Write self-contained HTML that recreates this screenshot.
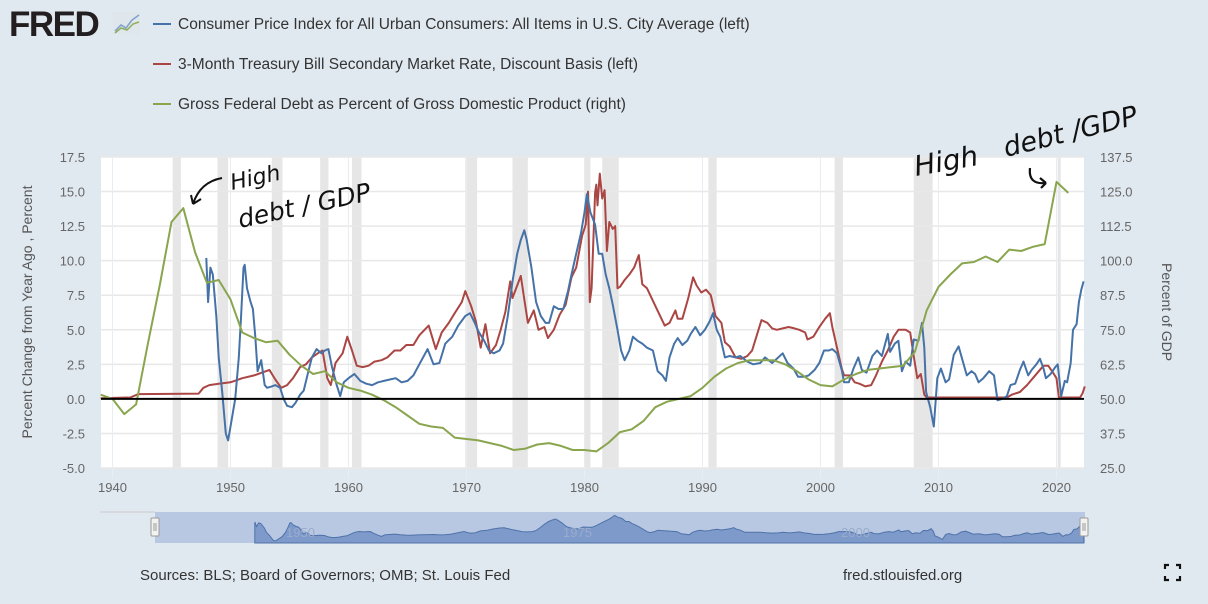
<!DOCTYPE html>
<html><head><meta charset="utf-8">
<style>
html,body{margin:0;padding:0;background:#e1e9f0;width:1208px;height:604px;overflow:hidden;font-family:"Liberation Sans","DejaVu Sans",sans-serif}
</style></head>
<body>
<svg id="chart" width="1208" height="604" xmlns="http://www.w3.org/2000/svg" style="position:absolute;left:0;top:0">
  <g>
    <text x="9" y="36" font-family="Liberation Sans, sans-serif" font-weight="bold" font-size="35" fill="#231f20" letter-spacing="-1.5">FRED</text>
    <rect x="113" y="12" width="27" height="22" fill="#dfe6ec"/>
    <polyline points="115,31 121,25 126,28 132,20 139,15" fill="none" stroke="#7fa0c9" stroke-width="1.5"/>
    <polyline points="115,33 121,28 127,30 133,24 139,22" fill="none" stroke="#8fb05a" stroke-width="1.5"/>
  </g>
  <g>
    <g><line x1="153" y1="24" x2="171" y2="24" stroke="#4572a7" stroke-width="2"/><text x="178" y="29" font-size="15.5" fill="#333">Consumer Price Index for All Urban Consumers: All Items in U.S. City Average (left)</text></g>
    <g><line x1="153" y1="64" x2="171" y2="64" stroke="#aa4643" stroke-width="2"/><text x="178" y="69" font-size="15.5" fill="#333">3-Month Treasury Bill Secondary Market Rate, Discount Basis (left)</text></g>
    <g><line x1="153" y1="104" x2="171" y2="104" stroke="#89a54e" stroke-width="2"/><text x="178" y="109" font-size="15.5" fill="#333">Gross Federal Debt as Percent of Gross Domestic Product (right)</text></g>
  </g>
  <rect x="101" y="157" width="983" height="311" fill="#fff"/>
  <g id="recessions"></g>
  <g id="grid"></g>
  <g id="yleft"></g>
  <g id="yright"></g>
  <g id="xaxis"></g>
  <text transform="translate(32,312) rotate(-90)" text-anchor="middle" font-size="14" fill="#555">Percent Change from Year Ago , Percent</text>
  <text transform="translate(1162,312) rotate(90)" text-anchor="middle" font-size="14" fill="#555">Percent of GDP</text>
  <g id="series"></g>
  <line id="zero" stroke="#000" stroke-width="2"/>
  <g font-family="DejaVu Sans, sans-serif" fill="#111">
    <text x="232" y="190" font-size="22" font-style="italic" transform="rotate(-12 232 190)">High</text>
    <text x="240" y="228" font-size="25" font-style="italic" transform="rotate(-12 240 228)">debt / GDP</text>
    <path d="M222,178 Q200,182 193,204 M193,204 l-2,-9 M193,204 l8,-5" fill="none" stroke="#111" stroke-width="2"/>
  </g>
  <g font-family="DejaVu Sans, sans-serif" fill="#111">
    <text x="916" y="176" font-size="28" font-style="italic" transform="rotate(-10 916 176)">High</text>
    <text x="1006" y="157" font-size="27" font-style="italic" transform="rotate(-14 1006 157)">debt /GDP</text>
    <path d="M1030,168 Q1028,185 1046,183 M1046,183 l-6,-5 M1046,183 l-5,5" fill="none" stroke="#111" stroke-width="2.2"/>
  </g>
  <g>
    <line x1="100" y1="512" x2="155" y2="512" stroke="#ccc"/>
    <rect x="155" y="512" width="930" height="31" fill="#b8c8e2"/>
    <path id="navarea" fill="#7e9acb" stroke="#4f72a8" stroke-width="1"/>
    <g font-size="13" fill="#9aaccb"><text x="286" y="537">1950</text><text x="563" y="537">1975</text><text x="841" y="537">2000</text></g>
    <rect x="151" y="518" width="8" height="18" rx="1" fill="#f2f2f2" stroke="#999"/>
    <line x1="154" y1="523" x2="154" y2="531" stroke="#999"/><line x1="156" y1="523" x2="156" y2="531" stroke="#999"/>
    <rect x="1080" y="518" width="8" height="18" rx="1" fill="#f2f2f2" stroke="#999"/>
    <line x1="1083" y1="523" x2="1083" y2="531" stroke="#999"/><line x1="1085" y1="523" x2="1085" y2="531" stroke="#999"/>
  </g>
  <text x="140" y="580" font-size="15" fill="#333">Sources: BLS; Board of Governors; OMB; St. Louis Fed</text>
  <text x="843" y="580" font-size="15" fill="#333">fred.stlouisfed.org</text>
  <g stroke="#111" stroke-width="2.2" fill="none">
    <path d="M1165,569 v-4 h4 M1176,565 h4 v4 M1180,576 v4 h-4 M1169,580 h-4 v-4"/>
  </g>
</svg>
<script>
const leftTicks=[-5,-2.5,0,2.5,5,7.5,10,12.5,15,17.5];
const leftTickLabels=["-5.0","-2.5","0.0","2.5","5.0","7.5","10.0","12.5","15.0","17.5"];
const rightTickLabels=["25.0","37.5","50.0","62.5","75.0","87.5","100.0","112.5","125.0","137.5"];
const xTicks=[1940,1950,1960,1970,1980,1990,2000,2010,2020];
const recessionStarts=[1945.1,1948.9,1953.5,1957.6,1960.3,1969.9,1973.9,1980.0,1981.5,1990.5,2001.2,2007.9,2020.1];
const recessionEnds=[1945.8,1949.8,1954.4,1958.3,1961.1,1970.9,1975.2,1980.5,1982.9,1991.2,2001.9,2009.5,2020.3];
const debtYears=[1939,1940,1941,1942,1943,1944,1945,1946,1947,1948,1949,1950,1951,1952,1953,1954,1955,1956,1957,1958,1959,1960,1961,1962,1963,1964,1965,1966,1967,1968,1969,1970,1971,1972,1973,1974,1975,1976,1977,1978,1979,1980,1981,1982,1983,1984,1985,1986,1987,1988,1989,1990,1991,1992,1993,1994,1995,1996,1997,1998,1999,2000,2001,2002,2003,2004,2005,2006,2007,2008,2009,2010,2011,2012,2013,2014,2015,2016,2017,2018,2019,2020,2021];
const debtValues=[51.5,50,44.5,48,70,91,114,119,103,92,93,86,74,72,70.5,71,66,62,59,60,56,54,53,51.5,49.5,47,44,41,40,39.5,36,35.5,35,34,33,31.5,32,33.5,34,33,31.5,31.5,31,34,38,39,42,47,49,50,51,54,58,61,63,64,64,64,62.5,60,57,55,54.5,57,59,60.5,61,61.5,62,67,82,90.5,95,99,99.5,101.5,99.5,104,103.5,105,106,128.5,124.5];
const cpiDates=[1947.95,1948.1,1948.3,1948.5,1948.8,1949.0,1949.3,1949.6,1949.8,1950.1,1950.4,1950.7,1950.9,1951.1,1951.2,1951.4,1951.7,1951.9,1952.1,1952.3,1952.6,1952.9,1953.1,1953.5,1953.8,1954.2,1954.5,1954.8,1955.2,1955.5,1955.9,1956.2,1956.6,1956.9,1957.3,1957.7,1958.0,1958.3,1958.6,1959.0,1959.3,1959.6,1960.0,1960.5,1961.0,1961.5,1962.0,1962.5,1963.0,1963.5,1964.0,1964.5,1965.0,1965.5,1966.0,1966.7,1967.2,1967.7,1968.2,1968.8,1969.3,1969.9,1970.3,1970.7,1971.0,1971.5,1971.9,1972.3,1972.8,1973.1,1973.5,1973.9,1974.3,1974.6,1974.9,1975.1,1975.5,1975.9,1976.3,1976.7,1977.0,1977.4,1977.8,1978.2,1978.6,1978.9,1979.3,1979.7,1980.0,1980.2,1980.5,1980.9,1981.2,1981.5,1981.8,1982.1,1982.4,1982.8,1983.1,1983.4,1983.8,1984.1,1984.5,1984.9,1985.3,1985.8,1986.2,1986.6,1986.9,1987.2,1987.6,1987.9,1988.3,1988.7,1989.0,1989.4,1989.8,1990.2,1990.6,1990.9,1991.2,1991.5,1991.9,1992.3,1992.8,1993.2,1993.8,1994.3,1994.9,1995.3,1995.9,1996.3,1996.8,1997.2,1997.7,1998.1,1998.6,1999.0,1999.5,1999.9,2000.3,2000.7,2001.0,2001.4,2001.8,2002.0,2002.4,2002.8,2003.2,2003.5,2003.9,2004.4,2004.8,2005.2,2005.7,2005.9,2006.3,2006.6,2006.9,2007.2,2007.6,2007.9,2008.3,2008.6,2008.8,2008.95,2009.3,2009.6,2009.9,2010.2,2010.6,2010.9,2011.3,2011.7,2012.0,2012.4,2012.8,2013.1,2013.4,2013.8,2014.3,2014.7,2015.0,2015.4,2015.8,2016.1,2016.5,2016.9,2017.2,2017.6,2017.9,2018.3,2018.6,2018.9,2019.1,2019.5,2019.9,2020.1,2020.4,2020.7,2020.9,2021.2,2021.4,2021.7,2021.9,2022.1,2022.3];
const cpiValues=[10.2,7,9.5,9,6,3,0.5,-2.5,-3,-1.5,0,3,6,9.5,9.7,8,7,6.5,4.5,2,2.8,1,0.8,0.9,1,0.8,0,-0.5,-0.6,-0.3,0.3,0.6,2,3,3.6,3.3,3.5,3.6,2.3,1.0,0.2,1.2,1.5,1.8,1.3,1.1,1.0,1.2,1.3,1.4,1.5,1.2,1.3,1.7,2.5,3.6,2.5,2.6,4,4.5,5.3,6.0,6.2,5.5,4.9,4.2,3.5,3.3,3.5,4,6,8.5,10.5,11.5,12.2,11.5,9.5,7.0,6,5.5,5.5,6.7,6.5,6.5,7.8,9,10.5,12,13.5,14.8,13.5,12.6,10.5,10.5,9,8,6.8,5,3.5,2.8,3.5,4.5,4.2,4,3.7,3.5,2,1.7,1.3,3,4,4.4,3.9,4.2,4.7,5.2,4.6,5,5.6,6.2,5,4.5,3,3.1,3,3.1,2.7,2.5,2.6,3.0,2.6,2.9,3.3,2.6,2.2,1.6,1.6,1.7,2.1,2.6,3.5,3.5,3.6,3.3,2.1,1.2,1.2,2.2,3,2.1,1.9,3.1,3.5,3.1,4.7,3.4,4.0,4.2,2.0,2.7,2.4,4.3,4.2,5.5,3.7,0.5,-0.6,-2.0,1.5,2.2,1.2,1.4,3.2,3.8,2.9,1.7,2.0,1.8,1.2,1.5,2.0,1.7,-0.1,0.0,0.2,1.0,1.1,2.1,2.7,1.7,2.1,2.5,2.9,2.2,1.5,1.8,2.3,2.5,0.2,1.3,1.2,2.6,5,5.4,7,7.9,8.5];
const tbillDates=[1939,1941.5,1942.2,1947.3,1947.7,1948.2,1949,1950,1951,1952,1953.3,1953.8,1954.3,1954.8,1955.3,1955.9,1956.4,1956.9,1957.4,1957.8,1958.2,1958.5,1958.9,1959.5,1959.9,1960.3,1960.7,1961.2,1961.7,1962.2,1962.8,1963.3,1963.9,1964.4,1964.9,1965.5,1966.0,1966.8,1967.4,1967.9,1968.5,1969.0,1969.6,1969.9,1970.4,1970.8,1971.2,1971.6,1972.0,1972.5,1972.9,1973.3,1973.7,1973.9,1974.3,1974.6,1974.9,1975.2,1975.7,1976.1,1976.6,1976.9,1977.4,1977.9,1978.4,1978.9,1979.3,1979.8,1980.1,1980.3,1980.45,1980.6,1980.9,1981.0,1981.1,1981.3,1981.5,1981.7,1981.9,1982.1,1982.4,1982.6,1982.8,1983.0,1983.4,1983.8,1984.2,1984.6,1984.9,1985.3,1985.8,1986.3,1986.8,1987.2,1987.7,1987.9,1988.3,1988.8,1989.2,1989.5,1989.9,1990.3,1990.7,1991.1,1991.6,1991.9,1992.3,1992.8,1993.3,1993.8,1994.2,1994.6,1995.0,1995.5,1995.9,1996.3,1996.8,1997.3,1997.8,1998.2,1998.7,1998.9,1999.4,1999.9,2000.4,2000.8,2001.0,2001.4,2001.8,2002.0,2002.5,2002.9,2003.3,2003.8,2004.3,2004.7,2005.2,2005.7,2006.2,2006.6,2007.2,2007.6,2007.9,2008.2,2008.5,2008.8,2009.0,2015.8,2016.2,2016.9,2017.5,2018.0,2018.5,2018.9,2019.3,2019.7,2020.0,2020.2,2022.0,2022.2,2022.4];
const tbillValues=[0.05,0.1,0.35,0.38,0.8,1.0,1.1,1.2,1.5,1.7,2.1,1.4,0.8,1.0,1.5,2.3,2.5,3.0,3.3,3.5,1.5,1.0,2.6,3.3,4.5,3.5,2.4,2.3,2.4,2.7,2.8,3.0,3.5,3.5,3.9,3.9,4.6,5.3,3.6,4.8,5.5,6.2,7.0,7.8,6.7,5.6,3.7,5.4,3.3,3.9,5,6.3,8.5,7.3,8.2,8.9,7.2,5.5,6.4,5.0,5.2,4.4,5.0,6.1,6.8,8.8,9.5,11.8,12.6,15.0,7.0,8.0,14.9,15.5,14.0,16.3,14.5,15.1,10.7,12.8,12.3,12.5,8,8.1,8.6,9.0,9.5,10.4,8.3,8.0,7.1,6.2,5.3,5.5,6.4,5.8,5.8,7.3,8.8,8.2,7.7,7.9,7.5,6.0,5.5,4.1,3.8,3.0,2.9,3.1,3.5,4.6,5.7,5.5,5.1,5.0,5.1,5.2,5.1,5.0,4.8,4.3,4.5,5.2,5.8,6.2,5.2,3.7,2.2,1.7,1.7,1.2,1.1,0.9,1.0,1.7,2.7,3.5,4.5,5.0,5.0,4.8,3.1,1.5,1.8,0.3,0.1,0.1,0.3,0.5,1.0,1.5,2.0,2.4,2.4,1.9,1.5,0.1,0.1,0.4,0.9];

const NS="http://www.w3.org/2000/svg";
const X0=101,X1=1084,Y0=157,Y1=468;
const xScale=y=>112.5+(y-1940)*11.8;
const yL=v=>Y1-(v+5)/22.5*(Y1-Y0);
const yR=v=>yL((v-50)/5);
function mk(tag,attrs,parent){const e=document.createElementNS(NS,tag);for(const k in attrs)e.setAttribute(k,attrs[k]);parent.appendChild(e);return e;}

const rec=document.getElementById('recessions');
recessionStarts.forEach((s,i)=>{
  const r=mk('rect',{x:xScale(s),y:Y0,width:Math.max(3,xScale(recessionEnds[i])-xScale(s)),height:Y1-Y0,fill:'#e6e6e6'},rec);
  
  
});
const grid=document.getElementById('grid');
leftTicks.forEach(v=>{mk('line',{x1:X0,x2:X1,y1:yL(v),y2:yL(v),stroke:'#e8e8e8','stroke-width':1.5},grid);});
xTicks.forEach(t=>{mk('line',{x1:xScale(t),x2:xScale(t),y1:Y0,y2:Y1+10,stroke:'#e8edf4','stroke-width':1},grid);});
const yl=document.getElementById('yleft'),yr=document.getElementById('yright'),xa=document.getElementById('xaxis');
leftTicks.forEach((v,i)=>{
  const t=mk('text',{x:85,y:yL(v)+5,'text-anchor':'end','font-size':13,fill:'#666'},yl);t.textContent=leftTickLabels[i];
  
  
  const u=mk('text',{x:1100,y:yL(v)+5,'font-size':13,fill:'#666'},yr);u.textContent=rightTickLabels[i];
  
  
});
xTicks.forEach(t=>{
  const e=mk('text',{x:xScale(t),y:492,'text-anchor':'middle','font-size':13,fill:'#666'},xa);e.textContent=t;
  
  
});
const ser=document.getElementById('series');
function line(xs,ys,fy,color,name){
  const p=mk('path',{d:xs.map((x,i)=>(i?'L':'M')+xScale(x).toFixed(1)+','+fy(ys[i]).toFixed(1)).join(''),fill:'none',stroke:color,'stroke-width':2,'stroke-linejoin':'round'},ser);
  
  
}
line(tbillDates,tbillValues,yL,'#aa4643','tbill-line');
line(cpiDates,cpiValues,yL,'#4572a7','cpi-line');
line(debtYears,debtValues,yR,'#89a54e','debt-gdp-line');
const z=document.getElementById('zero');
z.setAttribute('x1',X0);z.setAttribute('x2',X1);z.setAttribute('y1',yL(0));z.setAttribute('y2',yL(0));
const nx=y=>155+(y-1939)/(2022.4-1939)*930;
const ny=v=>541-(v+3)/18*26;
let d='M'+nx(cpiDates[0])+',543';
cpiDates.forEach((t,i)=>{d+='L'+nx(t).toFixed(1)+','+ny(cpiValues[i]).toFixed(1);});
d+='L'+nx(cpiDates[cpiDates.length-1])+',543Z';
document.getElementById('navarea').setAttribute('d',d);
</script>
</body></html>
